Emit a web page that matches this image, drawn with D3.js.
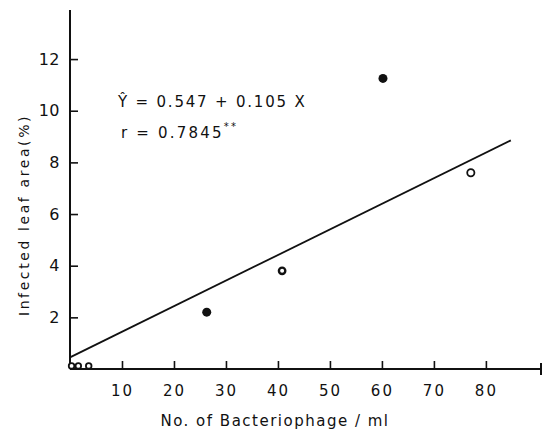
<!DOCTYPE html>
<html><head><meta charset="utf-8">
<script src="https://cdn.jsdelivr.net/npm/d3@7"></script>
<style>body{margin:0;background:#fff}svg{display:block}text{font-family:"DejaVu Sans",sans-serif;fill:#111}</style>
</head><body>
<svg id="c" width="551" height="432"></svg>
<script>
const xTicks = [10,20,30,40,50,60,70,80];
const yTicks = [2,4,6,8,10,12];
const filledX = [26.3, 60.2];
const filledY = [2.2, 11.25];
const ringX = [40.8];
const ringY = [3.8];
const openX = [0.3, 1.6, 3.6, 77.1];
const openY = [0.12, 0.12, 0.12, 7.6];
const lineX = [0, 84.8];
const lineY = [0.45, 8.85];
const eqText = "Ŷ = 0.547 + 0.105 X";
const rText = "r = 0.7845";

const svg = d3.select("#c");
const x = d3.scaleLinear().domain([0, 90.6]).range([70, 541]);
const y = d3.scaleLinear().domain([0, 13.9]).range([369, 10]);
const ink = "#111";

// axes
const xa = svg.append("g").attr("transform", `translate(0,${y(0)})`)
  .call(d3.axisBottom(x).tickValues(xTicks).tickSize(-8).tickPadding(22).tickFormat(d3.format("d")));
xa.select(".domain").attr("d", `M${x(0)},0H${x(90.6)}`).attr("stroke", ink).attr("stroke-width", 2);
xa.selectAll(".tick line").attr("stroke", ink).attr("stroke-width", 1.6);
xa.selectAll(".tick text").attr("font-size", 15).attr("letter-spacing", 2).attr("dy", "0.3em");
svg.append("line").attr("x1", x(90.6)).attr("x2", x(90.6)).attr("y1", y(0)-6).attr("y2", y(0)+6)
  .attr("stroke", ink).attr("stroke-width", 2);

const ya = svg.append("g").attr("transform", `translate(${x(0)},0)`)
  .call(d3.axisLeft(y).tickValues(yTicks).tickSize(-8).tickPadding(10).tickFormat(d3.format("d")));
ya.select(".domain").attr("d", `M0,${y(13.9)}V${y(0)}`).attr("stroke", ink).attr("stroke-width", 2);
ya.selectAll(".tick line").attr("stroke", ink).attr("stroke-width", 1.6);
ya.selectAll(".tick text").attr("font-size", 16).attr("letter-spacing", 0.5);

// regression line
svg.append("path").datum(lineX.map((d,i)=>[d, lineY[i]]))
  .attr("d", d3.line().x(d=>x(d[0])).y(d=>y(d[1])))
  .attr("fill","none").attr("stroke", ink).attr("stroke-width", 1.8);

// points
svg.selectAll(".f").data(filledX.map((d,i)=>[d, filledY[i]])).join("circle")
  .attr("cx", d=>x(d[0])).attr("cy", d=>y(d[1])).attr("r", 4.5).attr("fill", ink);
svg.selectAll(".rg").data(ringX.map((d,i)=>[d, ringY[i]])).join("circle")
  .attr("cx", d=>x(d[0])).attr("cy", d=>y(d[1])).attr("r", 3.2).attr("fill", "#fff")
  .attr("stroke", ink).attr("stroke-width", 2.4);
svg.selectAll(".o").data(openX.map((d,i)=>[d, openY[i]])).join("circle")
  .attr("cx", d=>x(d[0])).attr("cy", d=>y(d[1])).attr("r", (d,i)=> i<3 ? 2.8 : 3.6).attr("fill", "#fff")
  .attr("stroke", ink).attr("stroke-width", 1.8);

// equation text
svg.append("text").attr("x", 118).attr("y", 107).attr("font-size", 15).attr("letter-spacing", 1.8).text(eqText);
const rt = svg.append("text").attr("x", 121).attr("y", 138).attr("font-size", 15).attr("letter-spacing", 2.2);
rt.append("tspan").text(rText);
rt.append("tspan").attr("dy", -8).attr("font-size", 10).text("**");

// axis titles
svg.append("text").attr("x", 275).attr("y", 426).attr("text-anchor", "middle")
  .attr("font-size", 15).attr("letter-spacing", 1.5).text("No.  of  Bacteriophage / ml");
svg.append("text").attr("transform", "translate(29,215) rotate(-90)").attr("text-anchor", "middle")
  .attr("font-size", 14).attr("letter-spacing", 2.6).text("Infected  leaf area(%)");
</script>
</body></html>
